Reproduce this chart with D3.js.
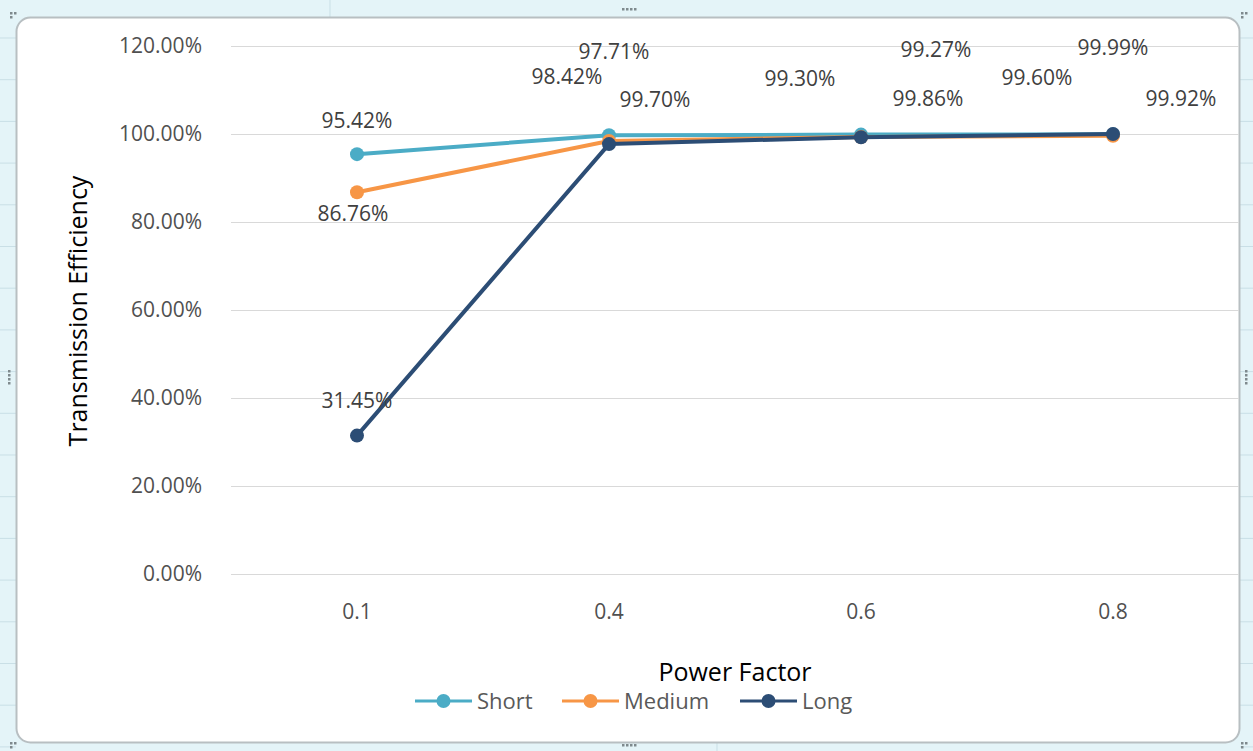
<!DOCTYPE html>
<html>
<head>
<meta charset="utf-8">
<script src="https://cdn.jsdelivr.net/npm/d3@7"></script>
<style>
  html, body { margin: 0; padding: 0; background: #fff; }
  svg { display: block; }
</style>
</head>
<body>
<svg id="chart" width="1253" height="751"></svg>
<script>
// Power factor categories and efficiency (%) for each line length
const categories = ["0.1", "0.4", "0.6", "0.8"];
const seriesNames = ["Short", "Medium", "Long"];
const shortValues = [95.42, 99.70, 99.86, 99.92];
const mediumValues = [86.76, 98.42, 99.30, 99.60];
const longValues = [31.45, 97.71, 99.27, 99.99];
const yTicks = [0, 20, 40, 60, 80, 100, 120];

const colors = { Short: "#4bacc6", Medium: "#f79646", Long: "#2c4d75" };

// Hand-placed data label offsets (px) from each point
const labelOffsets = {
  Short:  [[0, -34], [46, -36], [67, -36], [68, -36]],
  Medium: [[-4, 21], [-42, -64], [-61, -58], [-76, -58]],
  Long:   [[0, -35], [5, -92], [75, -88], [0, -86]]
};

const series = [
  { name: "Short", values: shortValues },
  { name: "Medium", values: mediumValues },
  { name: "Long", values: longValues }
];

const W = 1253, H = 751;
const svg = d3.select("#chart");
const FONT = "'Open Sans', 'Liberation Sans', sans-serif";

// Worksheet backdrop around the chart object
svg.append("rect").attr("width", W).attr("height", H).attr("fill", "#e4f4f8");
const cellLines = svg.append("g").attr("stroke", "#c9dfe6").attr("stroke-width", 1);
d3.range(38, H, 41.7).forEach(y => {
  cellLines.append("line").attr("x1", 0).attr("x2", 16).attr("y1", y).attr("y2", y);
  cellLines.append("line").attr("x1", 1240).attr("x2", W).attr("y1", y).attr("y2", y);
});
cellLines.append("line").attr("x1", 330).attr("x2", 330).attr("y1", 0).attr("y2", 17);
cellLines.append("line").attr("x1", 717).attr("x2", 717).attr("y1", 743).attr("y2", H);

// Chart area
svg.append("rect")
  .attr("x", 16.5).attr("y", 17.5).attr("width", 1223).attr("height", 725)
  .attr("rx", 14).attr("ry", 14)
  .attr("fill", "#ffffff").attr("stroke", "#b8bfc2").attr("stroke-width", 2);

// Resize handles
const handles = svg.append("g").attr("fill", "#7f8a8e");
[[622, 8], [622, 744]].forEach(([x, y]) => {
  for (let i = 0; i < 4; i++) handles.append("rect").attr("x", x + i * 4).attr("y", y).attr("width", 2.5).attr("height", 2.5);
});
[[8, 370], [1245, 370]].forEach(([x, y]) => {
  for (let i = 0; i < 4; i++) handles.append("rect").attr("x", x).attr("y", y + i * 4).attr("width", 2.5).attr("height", 2.5);
});
[[10, 12], [10, 742], [1241, 12], [1241, 742]].forEach(([x, y]) => {
  handles.append("rect").attr("x", x).attr("y", y).attr("width", 2.5).attr("height", 2.5);
  handles.append("rect").attr("x", x + 4).attr("y", y).attr("width", 2.5).attr("height", 2.5);
  handles.append("rect").attr("x", x).attr("y", y + 4).attr("width", 2.5).attr("height", 2.5);
});

// Scales
const x = d3.scaleBand().domain(categories).range([231, 1239]);
const y = d3.scaleLinear().domain([0, 120]).range([574, 46]);
const cx = c => x(c) + x.bandwidth() / 2;

// Horizontal gridlines
svg.append("g")
  .selectAll("line").data(yTicks).join("line")
  .attr("x1", 231).attr("x2", 1239)
  .attr("y1", d => Math.round(y(d)) + 0.5).attr("y2", d => Math.round(y(d)) + 0.5)
  .attr("stroke", "#d9d9d9").attr("stroke-width", 1);

// Y axis labels
const yAxis = d3.axisLeft(y).tickValues(yTicks).tickSize(0).tickPadding(0)
  .tickFormat(d => d.toFixed(2) + "%");
const yg = svg.append("g").attr("transform", "translate(202,0)").call(yAxis);
yg.select(".domain").remove();
yg.selectAll("text").attr("font-family", FONT).attr("font-size", 21).attr("fill", "#505050");

// X axis labels
const xAxis = d3.axisBottom(x).tickSize(0).tickPadding(0);
const xg = svg.append("g").attr("transform", "translate(0,604)").call(xAxis);
xg.select(".domain").remove();
xg.selectAll("text").attr("font-family", FONT).attr("font-size", 21).attr("fill", "#505050");

// Axis titles
svg.append("text").attr("x", 735).attr("y", 681).attr("text-anchor", "middle")
  .attr("font-family", FONT).attr("font-size", 25).attr("fill", "#000")
  .text("Power Factor");
svg.append("text").attr("transform", "translate(87,311) rotate(-90)").attr("text-anchor", "middle")
  .attr("font-family", FONT).attr("font-size", 25).attr("fill", "#000")
  .text("Transmission Efficiency");

// Lines and markers
const line = d3.line().x((d, i) => cx(categories[i])).y(d => y(d));
series.forEach(s => {
  const g = svg.append("g");
  g.append("path").datum(s.values).attr("d", line)
    .attr("fill", "none").attr("stroke", colors[s.name]).attr("stroke-width", 4)
    .attr("stroke-linejoin", "round").attr("stroke-linecap", "round");
  g.selectAll("circle").data(s.values).join("circle")
    .attr("cx", (d, i) => cx(categories[i])).attr("cy", d => y(d)).attr("r", 7)
    .attr("fill", colors[s.name]);
});

// Data labels
series.forEach(s => {
  svg.append("g").selectAll("text").data(s.values).join("text")
    .attr("x", (d, i) => cx(categories[i]) + labelOffsets[s.name][i][0])
    .attr("y", (d, i) => y(d) + labelOffsets[s.name][i][1])
    .attr("dy", "0.35em").attr("text-anchor", "middle")
    .attr("font-family", FONT).attr("font-size", 21).attr("fill", "#404040")
    .text(d => d.toFixed(2) + "%");
});

// Legend
const legendX = [415, 562, 740];
const lg = svg.append("g");
seriesNames.forEach((name, i) => {
  const g = lg.append("g").attr("transform", `translate(${legendX[i]},701)`);
  g.append("line").attr("x1", 0).attr("x2", 57).attr("y1", 0).attr("y2", 0)
    .attr("stroke", colors[name]).attr("stroke-width", 3);
  g.append("circle").attr("cx", 28.5).attr("cy", 0).attr("r", 7).attr("fill", colors[name]);
  g.append("text").attr("x", 62).attr("y", 0).attr("dy", "0.35em")
    .attr("font-family", FONT).attr("font-size", 22).attr("fill", "#595959").text(name);
});
</script>
</body>
</html>
